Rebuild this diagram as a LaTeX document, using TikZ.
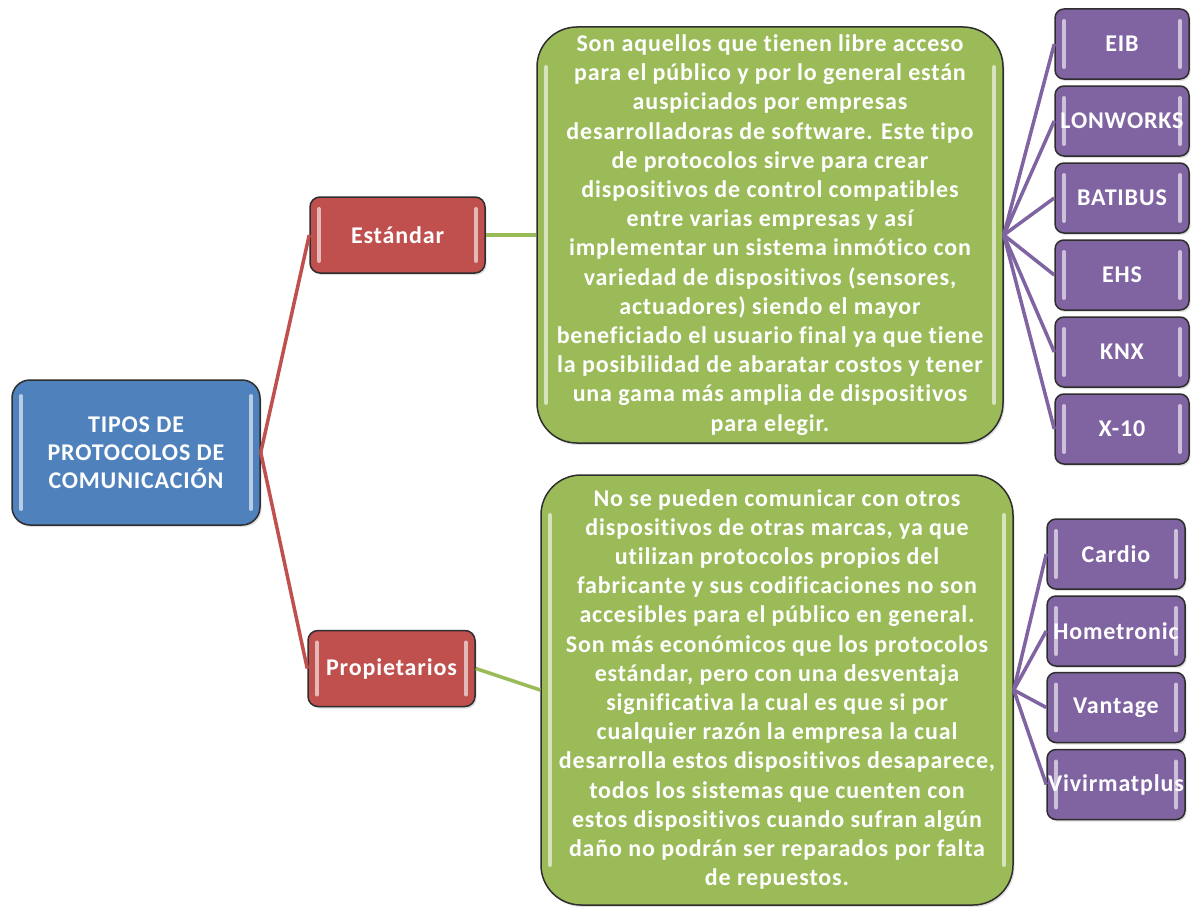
\documentclass[tikz,border=0pt]{standalone}
\usepackage{fontspec}
\setmainfont{Carlito}[LetterSpace=3.5, Ligatures=NoCommon]
\usetikzlibrary{shadows}
\definecolor{cblue}{HTML}{4F81BD}
\definecolor{cred}{HTML}{C0504D}
\definecolor{cgreen}{HTML}{9BBB59}
\definecolor{cpurple}{HTML}{8064A2}
\definecolor{cedge}{HTML}{2E2E2E}
\tikzset{
  gloss/.style={path picture={
    \draw[white,opacity=.6,line width=4pt,line cap=round]
      ([xshift=9pt,yshift=-#1]path picture bounding box.north west) --
      ([xshift=9pt,yshift=#1]path picture bounding box.south west)
      ([xshift=-9pt,yshift=-#1]path picture bounding box.north east) --
      ([xshift=-9pt,yshift=#1]path picture bounding box.south east);
  }},
  box/.style={draw=cedge, line width=1.5pt, text=white, align=center, inner sep=0pt,
    font=\bfseries\fontsize{24}{28}\selectfont,
    drop shadow={opacity=.25, shadow xshift=1.5pt, shadow yshift=-2pt}},
  rootbox/.style={box, fill=cblue, rounded corners=18pt, gloss=16pt,
    minimum width=248pt, minimum height=145pt},
  midbox/.style={box, fill=cred, rounded corners=10pt, gloss=12pt,
    minimum height=76pt},
  textbox/.style={box, fill=cgreen, rounded corners=40pt, gloss=40pt,
    font=\bfseries\fontsize{24}{29.2}\selectfont},
  leafbox/.style={box, fill=cpurple, rounded corners=9pt, gloss=12pt,
    minimum height=70pt},
  redline/.style={draw=cred, line width=3.5pt},
  greenline/.style={draw=cgreen, line width=3.5pt},
  purpleline/.style={draw=cpurple, line width=3.5pt},
}
\begin{document}
\begin{tikzpicture}[x=1pt,y=-1pt]
\useasboundingbox[fill=white] (0,0) rectangle (1191,907);

\node[rootbox] (root) at (136,452.5) {TIPOS DE\\PROTOCOLOS DE\\COMUNICACIÓN};
\node[midbox, minimum width=175pt] (est) at (397.5,235) {Estándar};
\node[midbox, minimum width=167pt] (prop) at (391.5,668.5) {Propietarios};

\node[textbox, minimum width=466pt, minimum height=416pt] (g1) at (770,235)
{Son aquellos que tienen libre acceso\\
para el público y por lo general están\\
auspiciados por empresas\\
desarrolladoras de software. Este tipo\\
de protocolos sirve para crear\\
dispositivos de control compatibles\\
entre varias empresas y así\\
implementar un sistema inmótico con\\
variedad de dispositivos (sensores,\\
actuadores) siendo el mayor\\
beneficiado el usuario final ya que tiene\\
la posibilidad de abaratar costos y tener\\
una gama más amplia de dispositivos\\
para elegir.};

\node[textbox, minimum width=472pt, minimum height=430pt] (g2) at (777,690)
{\raisebox{-7pt}{\begin{tabular}{@{}c@{}}No se pueden comunicar con otros\\
dispositivos de otras marcas, ya que\\
utilizan protocolos propios del\\
fabricante y sus codificaciones no son\\
accesibles para el público en general.\\
Son más económicos que los protocolos\\
estándar, pero con una desventaja\\
significativa la cual es que si por\\
cualquier razón la empresa la cual\\
desarrolla estos dispositivos desaparece,\\
todos los sistemas que cuenten con\\
estos dispositivos cuando sufran algún\\
daño no podrán ser reparados por falta\\
de repuestos.\end{tabular}}};

\foreach \n/\t/\yy in {l1/EIB/44, l2/LONWORKS/121, l3/BATIBUS/198, l4/EHS/275, l5/KNX/352, l6/X-10/429}
  \node[leafbox, minimum width=134pt] (\n) at (1122,\yy) {\t};
\foreach \n/\t/\yy in {m1/Cardio/554, m2/Hometronic/631, m3/Vantage/707.5, m4/Vivirmatplus/784.5}
  \node[leafbox, minimum width=138pt] (\n) at (1116,\yy) {\t};

\draw[redline] (root.east) -- (est.west);
\draw[redline] (root.east) -- (prop.west);
\draw[greenline] (est.east) -- (g1.west);
\draw[greenline] (prop.east) -- (g2.west);
\foreach \n in {l1,l2,l3,l4,l5,l6}
  \draw[purpleline] (g1.east) -- (\n.west);
\foreach \n in {m1,m2,m3,m4}
  \draw[purpleline] (g2.east) -- (\n.west);
\end{tikzpicture}
\end{document}
